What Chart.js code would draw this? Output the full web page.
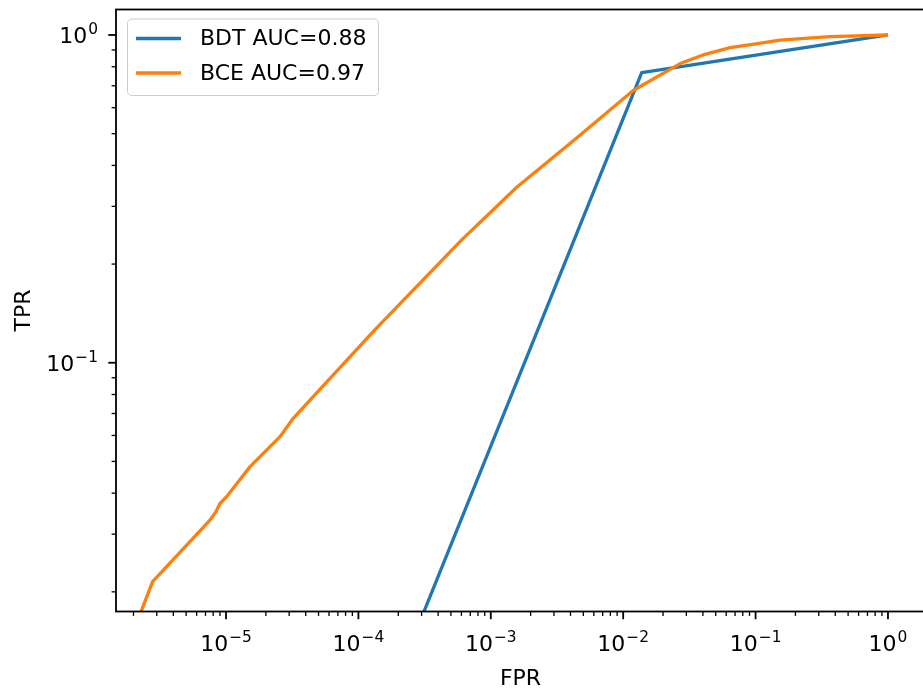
<!DOCTYPE html>
<html>
<head>
<meta charset="utf-8">
<title>ROC curve</title>
<script src="https://cdn.jsdelivr.net/npm/chart.js@4.4.1/dist/chart.umd.min.js"></script>
<style>
  html, body { margin: 0; padding: 0; background: #fff; overflow: hidden; }
  #wrap { width: 926px; height: 690px; }
</style>
</head>
<body>
<div id="wrap"><canvas id="rocChart" width="926" height="690"></canvas></div>
<script>
// ================================
// DATA
// ================================
const SERIES_LABELS = ["BDT AUC=0.88", "BCE AUC=0.97"];

const BDT_FPR = [1e-4, 0.0138, 1];
const BDT_TPR = [0.00557, 0.767, 1];

const BCE_FPR = [2.26e-6, 2.79e-6, 7.57e-6, 8.39e-6, 9.0e-6, 1.01e-5, 1.52e-5, 2.56e-5,
                 3.22e-5, 4.31e-5, 1.33e-4, 6.03e-4, 1.57e-3, 4.45e-3, 0.0119,
                 0.0269, 0.0415, 0.0641, 0.1, 0.153, 0.365, 1];
const BCE_TPR = [0.01722, 0.0215, 0.0331, 0.0351, 0.0372, 0.0390, 0.0482, 0.0595,
                 0.0677, 0.0769, 0.1259, 0.237, 0.343, 0.485, 0.677,
                 0.818, 0.873, 0.915, 0.939, 0.965, 0.988, 1];

// decades that get a "10^n" label
const X_MAJOR_EXP = [-5, -4, -3, -2, -1, 0];
const Y_MAJOR_EXP = [-1, 0];

const X_MIN = 1.476e-6, X_MAX = 1.904;
const Y_MIN = 0.01742, Y_MAX = 1.196;

const FONT = "'DejaVu Sans', sans-serif";
const BLUE = "#1f77b4";
const ORANGE = "#ff7f0e";

// ================================
// HELPERS
// ================================
function toPoints(xs, ys) {
    return xs.map((x, i) => ({ x: x, y: ys[i] }));
}

function isMajor(v) {
    const l = Math.log10(v);
    return Math.abs(l - Math.round(l)) < 1e-9;
}

// 1..9 x 10^e for every decade touching the axis range
function logTicks(majorExps, lo, hi) {
    const out = [];
    for (let e = majorExps[0] - 1; e <= majorExps[majorExps.length - 1]; e++) {
        for (let m = 1; m <= 9; m++) {
            const v = m * Math.pow(10, e);
            if (v >= lo && v <= hi) out.push({ value: v });
        }
    }
    return out;
}

// "10" with a smaller raised exponent, like matplotlib's mathtext
function drawPowLabel(ctx, exp, x, baseY, align) {
    const base = "10";
    const sup = String(exp).replace("-", "\u2212");
    ctx.font = "22px " + FONT;
    const wb = ctx.measureText(base).width;
    ctx.font = "15.4px " + FONT;
    const ws = ctx.measureText(sup).width;
    const total = wb + 1 + ws;
    const left = align === "center" ? x - total / 2 : x - total;
    ctx.textAlign = "left";
    ctx.textBaseline = "alphabetic";
    ctx.fillStyle = "#000";
    ctx.font = "22px " + FONT;
    ctx.fillText(base, left, baseY);
    ctx.font = "15.4px " + FONT;
    ctx.fillText(sup, left + wb + 1, baseY - 9.5);
}

function noPad(s) {
    s.paddingTop = 0;
    s.paddingBottom = 0;
    s.paddingLeft = 0;
    s.paddingRight = 0;
}

// ================================
// FRAME, TICKS, TICK LABELS AND LEGEND
// ================================
const axesDecor = {
    id: "axesDecor",
    afterDraw(chart) {
        const ctx = chart.ctx;
        const a = chart.chartArea;
        const xs = chart.scales.x;
        const ys = chart.scales.y;

        ctx.save();
        ctx.strokeStyle = "#000";

        xs.ticks.forEach(t => {
            const major = isMajor(t.value);
            const px = xs.getPixelForValue(t.value);
            ctx.lineWidth = major ? 1.8 : 1.3;
            ctx.beginPath();
            ctx.moveTo(px, a.bottom);
            ctx.lineTo(px, a.bottom + (major ? 7.7 : 4.4));
            ctx.stroke();
            if (major) drawPowLabel(ctx, Math.round(Math.log10(t.value)), px, 651, "center");
        });
        ys.ticks.forEach(t => {
            const major = isMajor(t.value);
            const py = ys.getPixelForValue(t.value);
            ctx.lineWidth = major ? 1.8 : 1.3;
            ctx.beginPath();
            ctx.moveTo(a.left, py);
            ctx.lineTo(a.left - (major ? 7.7 : 4.4), py);
            ctx.stroke();
            if (major) drawPowLabel(ctx, Math.round(Math.log10(t.value)), 98, py + 8.5, "right");
        });

        ctx.lineWidth = 1.8;
        ctx.strokeRect(a.left, a.top, a.right - a.left, a.bottom - a.top);

        // legend box, upper left
        ctx.beginPath();
        ctx.roundRect(127.5, 19, 251, 76.5, 4.4);
        ctx.fillStyle = "rgba(255,255,255,0.8)";
        ctx.fill();
        ctx.lineWidth = 1;
        ctx.strokeStyle = "#cccccc";
        ctx.stroke();

        const rows = [38.5, 73];
        chart.data.datasets.forEach((ds, i) => {
            const y = rows[i];
            ctx.strokeStyle = ds.borderColor;
            ctx.lineWidth = 3.3;
            ctx.beginPath();
            ctx.moveTo(136, y);
            ctx.lineTo(181, y);
            ctx.stroke();
            ctx.fillStyle = "#000";
            ctx.font = "22px " + FONT;
            ctx.textBaseline = "middle";
            ctx.textAlign = "left";
            ctx.fillText(ds.label, 200, y + 1);
        });
        ctx.restore();
    }
};

// ================================
// CHART
// ================================
new Chart(document.getElementById("rocChart"), {
    type: "line",
    data: {
        datasets: [
            {
                label: SERIES_LABELS[0],
                data: toPoints(BDT_FPR, BDT_TPR),
                borderColor: BLUE,
                borderWidth: 3.3,
                pointRadius: 0,
                tension: 0,
                borderJoinStyle: "round",
                order: 1
            },
            {
                label: SERIES_LABELS[1],
                data: toPoints(BCE_FPR, BCE_TPR),
                borderColor: ORANGE,
                borderWidth: 3.3,
                pointRadius: 0,
                tension: 0,
                borderJoinStyle: "round",
                order: 0
            }
        ]
    },
    options: {
        responsive: false,
        animation: false,
        parsing: false,
        layout: { padding: { left: 0, top: 9.5, right: 1, bottom: 0 } },
        plugins: {
            legend: { display: false },
            tooltip: { enabled: false }
        },
        scales: {
            x: {
                type: "logarithmic",
                min: X_MIN,
                max: X_MAX,
                afterBuildTicks: s => { s.ticks = logTicks(X_MAJOR_EXP, X_MIN, X_MAX); },
                afterFit: s => { s.height = 78.5; noPad(s); },
                border: { display: false },
                grid: { display: false },
                ticks: { display: false },
                title: {
                    display: true,
                    text: "FPR",
                    color: "#000",
                    font: { family: FONT, size: 22, lineHeight: 1.2 },
                    padding: { top: 0, bottom: -2 }
                }
            },
            y: {
                type: "logarithmic",
                min: Y_MIN,
                max: Y_MAX,
                afterBuildTicks: s => { s.ticks = logTicks(Y_MAJOR_EXP, Y_MIN, Y_MAX); },
                afterFit: s => { s.width = 116; noPad(s); },
                border: { display: false },
                grid: { display: false },
                ticks: { display: false },
                title: {
                    display: true,
                    text: "TPR",
                    color: "#000",
                    font: { family: FONT, size: 22, lineHeight: 1.2 },
                    padding: { top: 11, bottom: 0 }
                }
            }
        }
    },
    plugins: [axesDecor]
});
</script>
</body>
</html>
